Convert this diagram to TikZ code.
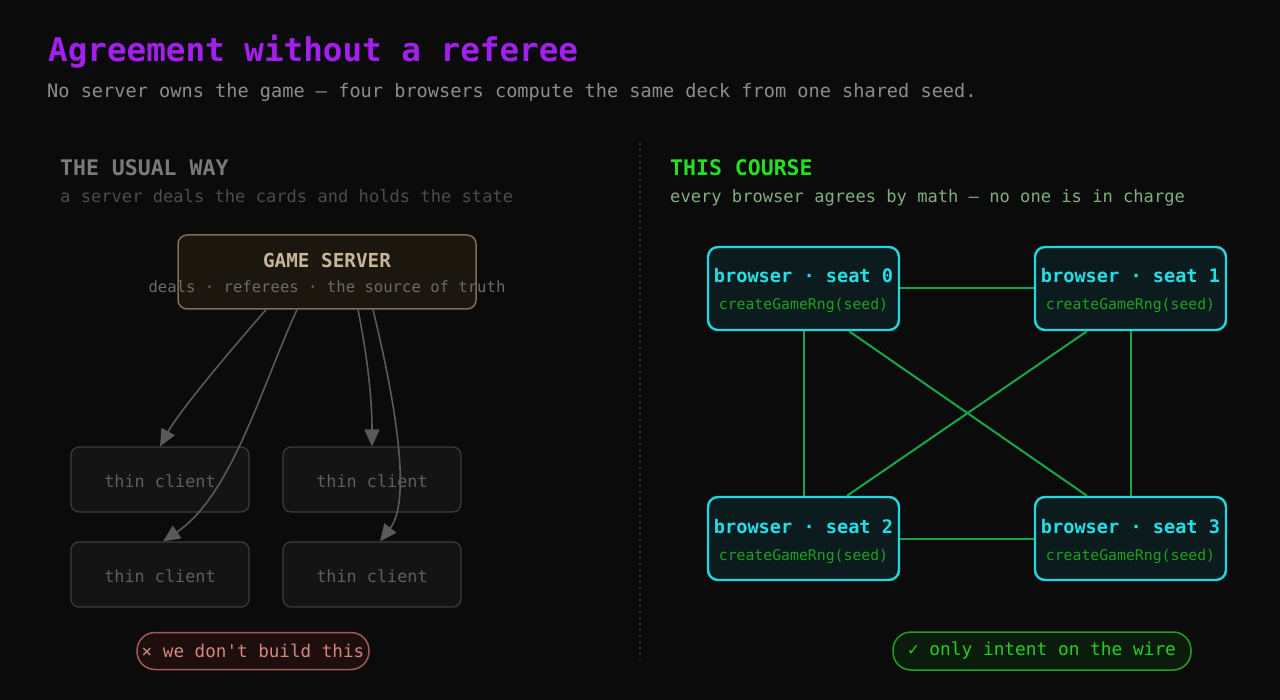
\documentclass[tikz,border=0pt]{standalone}
\usepackage{fontspec}
\setmonofont{DejaVu Sans Mono}
\renewcommand{\familydefault}{\ttdefault}
\usetikzlibrary{arrows.meta}
\definecolor{bgc}{HTML}{0B0B0B}
\definecolor{titlec}{HTML}{A21FF0}
\definecolor{subc}{HTML}{8C8C8C}
\definecolor{usualh}{HTML}{7A7A7A}
\definecolor{usuals}{HTML}{4C4C4C}
\definecolor{srvfill}{HTML}{1C170E}
\definecolor{srvline}{HTML}{7D6E55}
\definecolor{srvtext}{HTML}{C6B69A}
\definecolor{srvsub}{HTML}{6A6A6A}
\definecolor{clfill}{HTML}{141414}
\definecolor{clline}{HTML}{3C3C3C}
\definecolor{cltext}{HTML}{5E5E5E}
\definecolor{arrc}{HTML}{5A5A5A}
\definecolor{sepc}{HTML}{333333}
\definecolor{redfill}{HTML}{1F0E0E}
\definecolor{redline}{HTML}{A05858}
\definecolor{redtext}{HTML}{D08880}
\definecolor{courseh}{HTML}{22E022}
\definecolor{courses}{HTML}{7FB07F}
\definecolor{brline}{HTML}{20D8E0}
\definecolor{brfill}{HTML}{0C1C1E}
\definecolor{brtext}{HTML}{22E0E8}
\definecolor{brsub}{HTML}{1EA01E}
\definecolor{edgec}{HTML}{14A84A}
\definecolor{grfill}{HTML}{0C1C0C}
\definecolor{grline}{HTML}{20A020}
\definecolor{grtext}{HTML}{22D022}
\tikzset{
  fs/.style={font=\ttfamily\fontsize{#1}{#1}\selectfont},
  fsb/.style={font=\ttfamily\fontsize{#1}{#1}\selectfont\bfseries},
  txt/.style={inner sep=0pt, anchor=base west},
  ctxt/.style={inner sep=0pt, anchor=base},
  client/.style={draw=clline, fill=clfill, line width=1.2pt, rounded corners=8pt,
    minimum width=178pt, minimum height=65pt, inner sep=0pt},
  browser/.style={draw=brline, fill=brfill, line width=2.4pt, rounded corners=10pt,
    minimum width=191pt, minimum height=83pt, inner sep=0pt},
  feed/.style={draw=arrc, line width=1.6pt, -{Triangle[length=17pt,width=15pt]}},
  link/.style={draw=edgec, line width=2pt},
  pill/.style={rounded corners=18pt, line width=1.5pt, inner sep=0pt}
}
\begin{document}
\begin{tikzpicture}[x=1pt,y=-1pt]
\fill[bgc] (0,0) rectangle (1280,700);
\useasboundingbox (0,0) rectangle (1280,700);
% header
\node[txt, fsb=32.6, text=titlec] (title) at (48,62) {Agreement without a referee};
\node[txt, fs=18.6, text=subc] (subtitle) at (47,98) {No server owns the game — four browsers compute the same deck from one shared seed.};
% separator
\coordinate (septop) at (640,143);
\coordinate (sepbot) at (640,660);
\draw[sepc, line width=1.5pt, dash pattern=on 2pt off 4pt] (septop) -- (sepbot);
% left side
\node[txt, fsb=21.5, text=usualh] (usualh) at (60,176) {THE USUAL WAY};
\node[txt, fs=17.1, text=usuals] (usuals) at (60,202.5) {a server deals the cards and holds the state};
\node[draw=srvline, fill=srvfill, line width=1.5pt, rounded corners=9pt,
  minimum width=298pt, minimum height=74pt, inner sep=0pt] (srv) at (327,272) {};
\node[ctxt, fsb=19.3, text=srvtext] (srvt) at (327,268) {GAME SERVER};
\node[ctxt, fs=15.6, text=srvsub] (srvs) at (327,293) {deals · referees · the source of truth};
\node[client] (c1) at (160,479.5) {};
\node[client] (c2) at (372,479.5) {};
\node[client] (c3) at (160,574.5) {};
\node[client] (c4) at (372,574.5) {};
\foreach \c/\x/\y in {c1/160/487,c2/372/487,c3/160/582.5,c4/372/582.5}
  \node[ctxt, fs=16.8, text=cltext] (\c t) at (\x,\y) {thin client};
\draw[feed] ([xshift=-61pt]srv.south) .. controls (235,345) and (180,410) .. (c1.north);
\draw[feed] ([xshift=-30pt]srv.south) .. controls (262,385) and (232,495) .. ([xshift=3pt]c3.north);
\draw[feed] ([xshift=31pt]srv.south) .. controls (368,360) and (372,400) .. (c2.north);
\draw[feed] ([xshift=46pt]srv.south) .. controls (395,400) and (412,500) .. ([xshift=8pt]c4.north);
\node[pill, draw=redline, fill=redfill, minimum width=232pt, minimum height=37pt,
  text=redtext, fs=17.6] (nobuild) at (253,651) {× we don't build this};
% right side
\node[txt, fsb=21.5, text=courseh] (courseh) at (670,176) {THIS COURSE};
\node[txt, fs=17.1, text=courses] (courses) at (670,202.5) {every browser agrees by math — no one is in charge};
\node[browser] (b0) at (803.5,288.5) {};
\node[browser] (b1) at (1130.5,288.5) {};
\node[browser] (b2) at (803.5,538.5) {};
\node[browser] (b3) at (1130.5,538.5) {};
\draw[link] (b0) -- (b1);
\draw[link] (b2) -- (b3);
\draw[link] (b0) -- (b2);
\draw[link] (b1) -- (b3);
\draw[link] ([xshift=45.5pt]b0.south) -- ([xshift=-43.5pt]b3.north);
\draw[link] ([xshift=-43.5pt]b1.south) -- ([xshift=43.5pt]b2.north);
\foreach \b/\n/\x/\y in {b0/0/803.5/283,b1/1/1130.5/283,b2/2/803.5/533,b3/3/1130.5/533}{
  \node[ctxt, fsb=18.6, text=brtext] (\b t) at (\x,\y) {browser · seat \n};
  \node[ctxt, fs=14.8, text=brsub] (\b s) at (\x,\y+27) {createGameRng(seed)};
}
\node[pill, draw=grline, fill=grfill, minimum width=298pt, minimum height=38pt,
  text=grtext, fs=17.8] (intent) at (1042,651) {✓ only intent on the wire};
\end{tikzpicture}
\end{document}
